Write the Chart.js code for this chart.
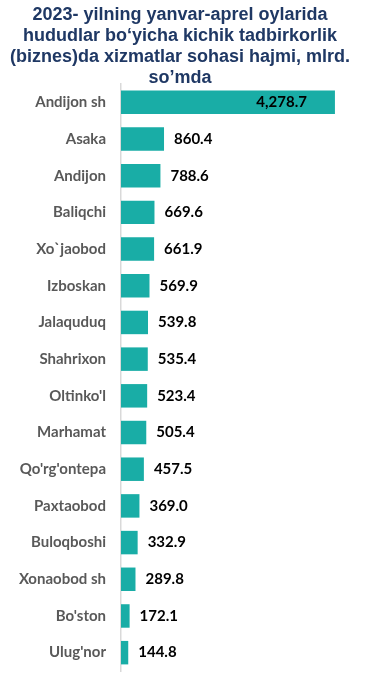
<!DOCTYPE html>
<html>
<head>
<meta charset="utf-8">
<script src="https://cdn.jsdelivr.net/npm/chart.js@4.4.0/dist/chart.umd.min.js"></script>
<style>
  html, body { margin: 0; padding: 0; background: #fff; }
  #wrap { width: 370px; height: 695px; }
</style>
</head>
<body>
<div id="wrap"><canvas id="chart"></canvas></div>
<script>
// data
const titleLines = [
  "2023- yilning yanvar-aprel oylarida",
  "hududlar bo‘yicha kichik tadbirkorlik",
  "(biznes)da xizmatlar sohasi hajmi, mlrd.",
  "so’mda"
];
const districts = ["Andijon sh", "Asaka", "Andijon", "Baliqchi", "Xo`jaobod", "Izboskan",
  "Jalaquduq", "Shahrixon", "Oltinko'l", "Marhamat", "Qo'rg'ontepa", "Paxtaobod",
  "Buloqboshi", "Xonaobod sh", "Bo'ston", "Ulug'nor"];
const volumes = [4278.7, 860.4, 788.6, 669.6, 661.9, 569.9, 539.8, 535.4, 523.4,
  505.4, 457.5, 369.0, 332.9, 289.8, 172.1, 144.8];

const fmt = v => v.toLocaleString('en-US', { minimumFractionDigits: 1, maximumFractionDigits: 1 });

// value labels: inside the biggest bar, right of the others
const valueLabels = {
  id: 'valueLabels',
  afterDatasetsDraw(chart) {
    const ctx = chart.ctx;
    const meta = chart.getDatasetMeta(0);
    ctx.save();
    ctx.font = 'bold 15px Lato, sans-serif';
    ctx.fillStyle = '#000';
    ctx.textBaseline = 'middle';
    meta.data.forEach((bar, i) => {
      const txt = fmt(volumes[i]);
      if (i === 0) {
        ctx.textAlign = 'right';
        ctx.fillText(txt, bar.x - 28, bar.y);
      } else {
        ctx.textAlign = 'left';
        ctx.fillText(txt, bar.x + 10, bar.y);
      }
    });
    ctx.restore();
  }
};

new Chart(document.getElementById('chart'), {
  type: 'bar',
  data: {
    labels: districts,
    datasets: [{
      data: volumes,
      backgroundColor: '#19ADA6',
      borderWidth: 0,
      categoryPercentage: 1,
      barPercentage: 0.64
    }]
  },
  options: {
    indexAxis: 'y',
    responsive: true,
    maintainAspectRatio: false,
    animation: false,
    layout: { padding: { left: 0, right: 10, top: 0, bottom: 9 } },
    plugins: {
      legend: { display: false },
      tooltip: { enabled: false },
      title: {
        display: true,
        text: titleLines,
        color: '#1F3864',
        font: { family: 'Liberation Sans, Arial, sans-serif', size: 18, weight: 'bold', lineHeight: 1.18 },
        padding: { top: 4, bottom: -5 }
      }
    },
    scales: {
      x: {
        display: false,
        min: 0,
        max: 4780
      },
      y: {
        afterFit(s) { s.width = 121; },
        grid: { display: false, drawTicks: false },
        border: { display: true, color: '#D9D9D9', width: 1.5 },
        ticks: {
          color: '#595959',
          padding: 15,
          font: { family: 'Lato, sans-serif', size: 15, weight: 'bold' }
        }
      }
    }
  },
  plugins: [valueLabels]
});
</script>
</body>
</html>
